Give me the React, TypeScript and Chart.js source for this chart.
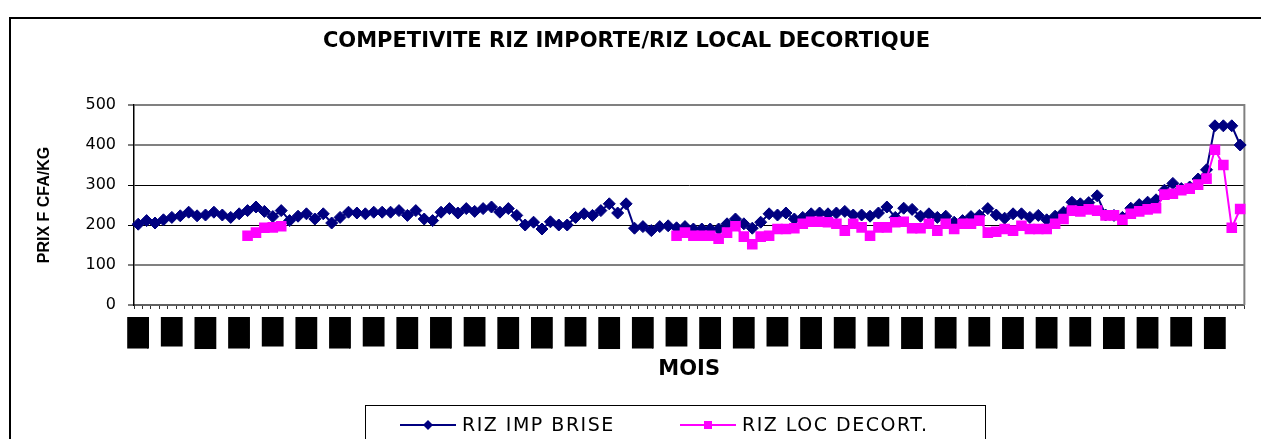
import React, { useEffect, useRef } from 'react';
import { Chart, registerables } from 'chart.js';

Chart.register(...registerables);

const TITLE = 'COMPETIVITE RIZ IMPORTE/RIZ LOCAL DECORTIQUE';
const X_TITLE = 'MOIS';
const Y_TITLE = 'PRIX F CFA/KG';
const SERIES_NAMES = ['RIZ IMP BRISE', 'RIZ LOC DECORT.'];

const CATEGORIES = [
  'janv-98', 'févr-98', 'mars-98', 'avr-98', 'mai-98', 'juin-98', 'juil-98', 'août-98', 'sept-98', 'oct-98', 'nov-98', 'déc-98',
  'janv-99', 'févr-99', 'mars-99', 'avr-99', 'mai-99', 'juin-99', 'juil-99', 'août-99', 'sept-99', 'oct-99', 'nov-99', 'déc-99',
  'janv-00', 'févr-00', 'mars-00', 'avr-00', 'mai-00', 'juin-00', 'juil-00', 'août-00', 'sept-00', 'oct-00', 'nov-00', 'déc-00',
  'janv-01', 'févr-01', 'mars-01', 'avr-01', 'mai-01', 'juin-01', 'juil-01', 'août-01', 'sept-01', 'oct-01', 'nov-01', 'déc-01',
  'janv-02', 'févr-02', 'mars-02', 'avr-02', 'mai-02', 'juin-02', 'juil-02', 'août-02', 'sept-02', 'oct-02', 'nov-02', 'déc-02',
  'janv-03', 'févr-03', 'mars-03', 'avr-03', 'mai-03', 'juin-03', 'juil-03', 'août-03', 'sept-03', 'oct-03', 'nov-03', 'déc-03',
  'janv-04', 'févr-04', 'mars-04', 'avr-04', 'mai-04', 'juin-04', 'juil-04', 'août-04', 'sept-04', 'oct-04', 'nov-04', 'déc-04',
  'janv-05', 'févr-05', 'mars-05', 'avr-05', 'mai-05', 'juin-05', 'juil-05', 'août-05', 'sept-05', 'oct-05', 'nov-05', 'déc-05',
  'janv-06', 'févr-06', 'mars-06', 'avr-06', 'mai-06', 'juin-06', 'juil-06', 'août-06', 'sept-06', 'oct-06', 'nov-06', 'déc-06',
  'janv-07', 'févr-07', 'mars-07', 'avr-07', 'mai-07', 'juin-07', 'juil-07', 'août-07', 'sept-07', 'oct-07', 'nov-07', 'déc-07',
  'janv-08', 'févr-08', 'mars-08', 'avr-08', 'mai-08', 'juin-08', 'juil-08', 'août-08', 'sept-08', 'oct-08', 'nov-08', 'déc-08',
];

const RIZ_IMP_BRISE = [
  202, 211, 205, 213, 219, 223, 232, 223, 225, 232,
  225, 219, 228, 236, 245, 234, 221, 236, 211, 222,
  228, 215, 228, 205, 219, 232, 230, 228, 232, 232,
  232, 236, 224, 236, 215, 211, 232, 241, 230, 241,
  234, 241, 245, 232, 241, 224, 200, 207, 190, 208,
  200, 200, 219, 228, 224, 236, 253, 230, 253, 192,
  196, 186, 196, 198, 193, 196, 190, 190, 190, 190,
  203, 215, 203, 192, 207, 228, 225, 230, 215, 219,
  228, 230, 228, 230, 234, 225, 225, 222, 230, 245,
  219, 242, 239, 222, 228, 219, 222, 207, 211, 221,
  224, 241, 225, 217, 228, 228, 219, 224, 213, 222,
  232, 257, 253, 256, 273, 225, 224, 219, 242, 251,
  257, 263, 287, 304, 291, 295, 315, 338, 448, 448,
  448, 400,
];

const RIZ_LOC_DECORT = [
  null, null, null, null, null, null, null, null, null, null,
  null, null, null, 173, 181, 193, 194, 197, null, null,
  null, null, null, null, null, null, null, null, null, null,
  null, null, null, null, null, null, null, null, null, null,
  null, null, null, null, null, null, null, null, null, null,
  null, null, null, null, null, null, null, null, null, null,
  null, null, null, null, 173, 181, 173, 173, 173, 166,
  181, 197, 171, 152, 171, 173, 190, 190, 192, 203,
  208, 208, 207, 203, 186, 203, 194, 173, 194, 194,
  207, 208, 192, 192, 203, 186, 203, 190, 203, 203,
  211, 181, 183, 190, 186, 198, 190, 190, 190, 203,
  215, 236, 234, 239, 236, 224, 224, 213, 228, 234,
  239, 242, 276, 278, 287, 291, 301, 316, 388, 350,
  193, 240,
];

const Y_MIN = 0;
const Y_MAX = 500;
const Y_STEP = 100;
const LABEL_EVERY = 4;

export default function App() {
  const ref = useRef<HTMLCanvasElement>(null);

  useEffect(() => {
    document.body.style.margin = '0';
    document.body.style.overflow = 'hidden';
    const canvas = ref.current;
    if (!canvas) return;

    const framePlugin = {
      id: 'frame',
      beforeDraw(chart: any) {
        const { ctx } = chart;
        ctx.save();
        ctx.fillStyle = '#ffffff';
        ctx.fillRect(0, 0, chart.width, chart.height);
        ctx.strokeStyle = '#000000';
        ctx.lineWidth = 2;
        ctx.strokeRect(10, 18, chart.width + 100, chart.height + 100);
        ctx.restore();
      },
      beforeDatasetsDraw(chart: any) {
        const { ctx, chartArea } = chart;
        ctx.save();
        ctx.strokeStyle = '#808080';
        ctx.lineWidth = 2;
        ctx.beginPath();
        ctx.moveTo(chartArea.right, chartArea.top - 1);
        ctx.lineTo(chartArea.right, chartArea.bottom);
        ctx.stroke();
        ctx.restore();
      },
    };

    const legendPlugin = {
      id: 'boxLegend',
      afterDraw(chart: any) {
        const { ctx } = chart;
        const boxLeft = 365.5;
        const boxTop = 405.5;
        const boxWidth = 620;
        const itemX = [400, 680];
        const y = 425;
        ctx.save();
        ctx.strokeStyle = '#000000';
        ctx.lineWidth = 1;
        ctx.strokeRect(boxLeft, boxTop, boxWidth, 100);
        chart.data.datasets.forEach((ds: any, i: number) => {
          const x0 = itemX[i];
          ctx.strokeStyle = ds.borderColor;
          ctx.lineWidth = 2;
          ctx.beginPath();
          ctx.moveTo(x0, y);
          ctx.lineTo(x0 + 56, y);
          ctx.stroke();
          const cx = x0 + 28;
          ctx.fillStyle = ds.backgroundColor;
          ctx.beginPath();
          if (ds.pointStyle === 'rectRot') {
            const r = 5;
            ctx.moveTo(cx - r, y);
            ctx.lineTo(cx, y - r);
            ctx.lineTo(cx + r, y);
            ctx.lineTo(cx, y + r);
            ctx.closePath();
          } else {
            ctx.rect(cx - 4, y - 4, 8, 8);
          }
          ctx.fill();
          ctx.fillStyle = '#000000';
          ctx.font = '19px "DejaVu Sans"';
          (ctx as any).letterSpacing = '1.5px';
          ctx.textBaseline = 'middle';
          ctx.textAlign = 'left';
          ctx.fillText(ds.label, x0 + 62, y + 1);
        });
        ctx.restore();
      },
    };

    const chart = new Chart(canvas, {
      type: 'line',
      data: {
        labels: CATEGORIES,
        datasets: [
          {
            label: SERIES_NAMES[0],
            data: RIZ_IMP_BRISE,
            borderColor: '#000080',
            backgroundColor: '#000080',
            borderWidth: 2,
            pointStyle: 'rectRot',
            pointRadius: 6,
            pointBorderWidth: 1,
            pointBorderColor: '#000080',
            pointBackgroundColor: '#000080',
            tension: 0,
            fill: false,
            order: 1,
          },
          {
            label: SERIES_NAMES[1],
            data: RIZ_LOC_DECORT,
            borderColor: '#FF00FF',
            backgroundColor: '#FF00FF',
            borderWidth: 2,
            pointStyle: 'rect',
            pointRadius: 7.5,
            pointBorderWidth: 0,
            pointBackgroundColor: '#FF00FF',
            tension: 0,
            fill: false,
            spanGaps: false,
            order: 0,
          },
        ],
      },
      options: {
        responsive: false,
        animation: false,
        events: [],
        layout: { padding: { left: 0, right: 8, top: 0, bottom: 0 } },
        plugins: {
          legend: { display: false },
          tooltip: { enabled: false },
          title: {
            display: true,
            text: TITLE,
            color: '#000000',
            font: { family: 'DejaVu Sans', size: 21, weight: 'bold' },
            padding: { top: 29.4, bottom: 50.4 },
          },
        },
        scales: {
          x: {
            type: 'category',
            offset: true,
            grid: {
              offset: true,
              drawOnChartArea: false,
              drawTicks: true,
              tickLength: 4,
              color: '#333333',
              tickColor: '#333333',
              tickWidth: 1,
            },
            border: { display: true, color: '#606060', width: 2 },
            ticks: {
              autoSkip: false,
              minRotation: 90,
              maxRotation: 90,
              padding: 10,
              color: '#000000',
              font: { family: 'Liberation Sans', size: 9 },
              callback: (_v: any, i: number) => (i % LABEL_EVERY === 0 ? CATEGORIES[i] : ''),
              showLabelBackdrop: (c: any) => c.index % LABEL_EVERY === 0,
              backdropColor: '#000000',
              backdropPadding: { top: 11, bottom: 0, left: 0, right: 2 },
            } as any,
            title: {
              display: true,
              text: X_TITLE,
              color: '#000000',
              font: { family: 'DejaVu Sans', size: 21, weight: 'bold' },
              padding: { top: 0, bottom: 56.4 },
            },
            afterFit: (s: any) => {
              s.height = 134;
            },
          },
          y: {
            min: Y_MIN,
            max: Y_MAX,
            ticks: {
              stepSize: Y_STEP,
              padding: 12,
              color: '#000000',
              font: { family: 'DejaVu Sans', size: 16 },
            },
            grid: {
              color: (c: any) => (c.tick && (c.tick.value === 200 || c.tick.value === 300) ? '#000000' : '#808080'),
              lineWidth: (c: any) => (c.tick && (c.tick.value === 200 || c.tick.value === 300) ? 1 : 2),
              tickLength: 6,
              tickColor: '#000000',
              tickWidth: 1,
            },
            border: { display: true, color: '#000000', width: 1.5 },
            title: {
              display: true,
              text: Y_TITLE,
              color: '#000000',
              font: { family: 'Liberation Sans', size: 16, weight: 'bold' },
              padding: { top: 35.4, bottom: 0 },
            },
            afterFit: (s: any) => {
              s.width = 134;
            },
          },
        },
      },
      plugins: [framePlugin, legendPlugin],
    });

    return () => {
      chart.destroy();
    };
  }, []);

  return (
    <div style={{ width: 1261, height: 439 }}>
      <canvas ref={ref} width={1261} height={439} style={{ display: 'block' }} />
    </div>
  );
}
